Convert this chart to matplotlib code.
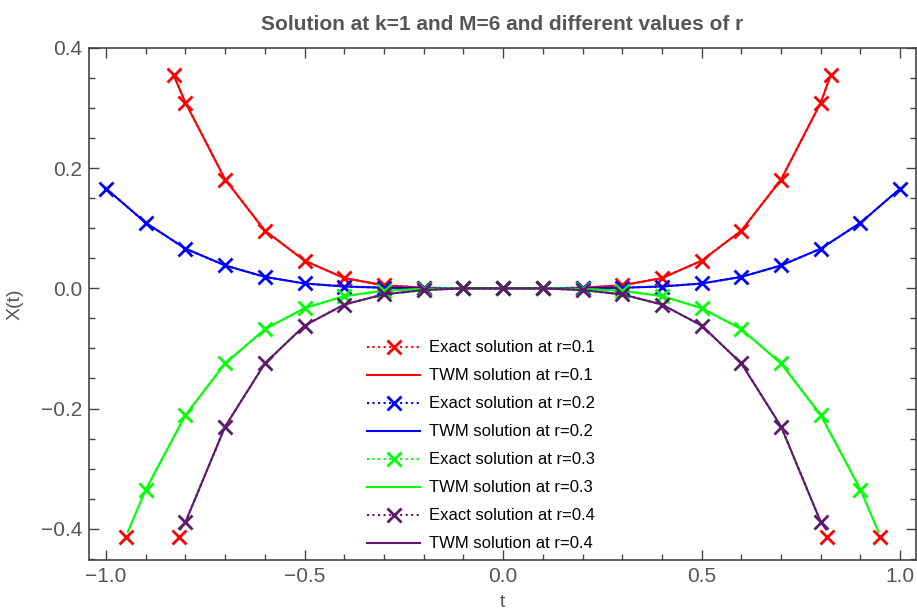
import matplotlib.pyplot as plt
import numpy as np

plt.rcParams['font.family'] = ['Liberation Sans', 'DejaVu Sans']

# exact solution samples (markers)
t_red = [-0.83, -0.8, -0.7, -0.6, -0.5, -0.4, -0.3, -0.2, -0.1, 0.0,
         0.1, 0.2, 0.3, 0.4, 0.5, 0.6, 0.7, 0.8, 0.825]
x_red = [0.355, 0.309, 0.181, 0.096, 0.046, 0.017, 0.005, 0.001, 0.0, 0.0,
         0.0, 0.001, 0.005, 0.017, 0.046, 0.096, 0.181, 0.309, 0.355]

t_blue = [-1.0, -0.9, -0.8, -0.7, -0.6, -0.5, -0.4, -0.3, -0.2, -0.1, 0.0,
          0.1, 0.2, 0.3, 0.4, 0.5, 0.6, 0.7, 0.8, 0.9, 1.0]
x_blue = [0.166, 0.109, 0.066, 0.038, 0.019, 0.008, 0.003, 0.001, 0.0, 0.0, 0.0,
          0.0, 0.0, 0.001, 0.003, 0.008, 0.019, 0.038, 0.066, 0.109, 0.166]

t_green = [-0.9, -0.8, -0.7, -0.6, -0.5, -0.4, -0.3, -0.2, -0.1, 0.0,
           0.1, 0.2, 0.3, 0.4, 0.5, 0.6, 0.7, 0.8, 0.9]
x_green = [-0.335, -0.211, -0.125, -0.068, -0.033, -0.013, -0.004, -0.001, 0.0, 0.0,
           0.0, -0.001, -0.004, -0.013, -0.033, -0.068, -0.125, -0.211, -0.335]
# TWM green reaches a bit further than the samples
tw_t_green = [-0.945] + t_green + [0.945]
tw_x_green = [-0.405] + x_green + [-0.405]

t_purple = [-0.8, -0.7, -0.6, -0.5, -0.4, -0.3, -0.2, -0.1, 0.0,
            0.1, 0.2, 0.3, 0.4, 0.5, 0.6, 0.7, 0.8]
x_purple = [-0.389, -0.230, -0.125, -0.062, -0.027, -0.010, -0.003, 0.0, 0.0,
            0.0, -0.003, -0.010, -0.027, -0.062, -0.125, -0.230, -0.389]
tw_t_purple = [-0.813] + t_purple + [0.813]
tw_x_purple = [-0.401] + x_purple + [-0.401]

# stray red markers at the lower edge
t_low = [-0.95, -0.815, 0.815, 0.95]
x_low = [-0.413, -0.413, -0.413, -0.413]

purple = '#5e1a6a'
grey = '#555555'

fig = plt.figure(figsize=(9.17, 6.14), dpi=100)
ax = fig.add_axes([0.097, 0.088, 0.902, 0.834])

ms = 10
mew = 2
ax.plot(t_red, x_red, ':', color='red', marker='x', ms=ms, mew=mew, lw=1.5, label='Exact solution at r=0.1')
ax.plot(t_red, x_red, '-', color='red', lw=1.5, label='TWM solution at r=0.1')
ax.plot(t_blue, x_blue, ':', color='blue', marker='x', ms=ms, mew=mew, lw=1.5, label='Exact solution at r=0.2')
ax.plot(t_blue, x_blue, '-', color='blue', lw=1.5, label='TWM solution at r=0.2')
ax.plot(t_green, x_green, ':', color='#00ff00', marker='x', ms=ms, mew=mew, lw=1.5, label='Exact solution at r=0.3')
ax.plot(tw_t_green, tw_x_green, '-', color='#00ff00', lw=1.5, label='TWM solution at r=0.3')
ax.plot(t_purple, x_purple, ':', color=purple, marker='x', ms=ms, mew=mew, lw=1.5, label='Exact solution at r=0.4')
ax.plot(tw_t_purple, tw_x_purple, '-', color=purple, lw=1.5, label='TWM solution at r=0.4')
ax.plot(t_low, x_low, 'x', color='red', ms=ms, mew=mew)

ax.set_xlim(-1.043, 1.04)
ax.set_ylim(-0.452, 0.4)

ax.set_xticks([-1.0, -0.5, 0.0, 0.5, 1.0])
ax.set_xticklabels(['\u22121.0', '\u22120.5', '0.0', '0.5', '1.0'])
ax.set_xticks(np.arange(-1.0, 1.01, 0.1), minor=True)
ax.set_yticks([-0.4, -0.2, 0.0, 0.2, 0.4])
ax.set_yticklabels(['\u22120.4', '\u22120.2', '0.0', '0.2', '0.4'])
ax.set_yticks(np.arange(-0.45, 0.41, 0.05), minor=True)

ax.tick_params(which='both', direction='in', top=True, right=True, color='#444444',
               labelcolor=grey, labelsize=15, width=1)
ax.tick_params(which='major', length=7, pad=5)
ax.tick_params(which='minor', length=4)
for s in ax.spines.values():
    s.set_color('#444444')
    s.set_linewidth(1.2)

ax.set_xlabel('t', fontsize=14, color=grey, labelpad=6)
ax.set_ylabel('X(t)', fontsize=14, color=grey, labelpad=12)
ax.set_title('Solution at k=1 and M=6 and different values of r', fontsize=15,
             fontweight='bold', color=grey, pad=13)

ax.legend(loc='upper left', bbox_to_anchor=(0.318, 0.458), frameon=False, fontsize=12,
          handlelength=3.2, labelspacing=0.78, handletextpad=0.5, numpoints=1)

fig.savefig('out.png', dpi=100)
